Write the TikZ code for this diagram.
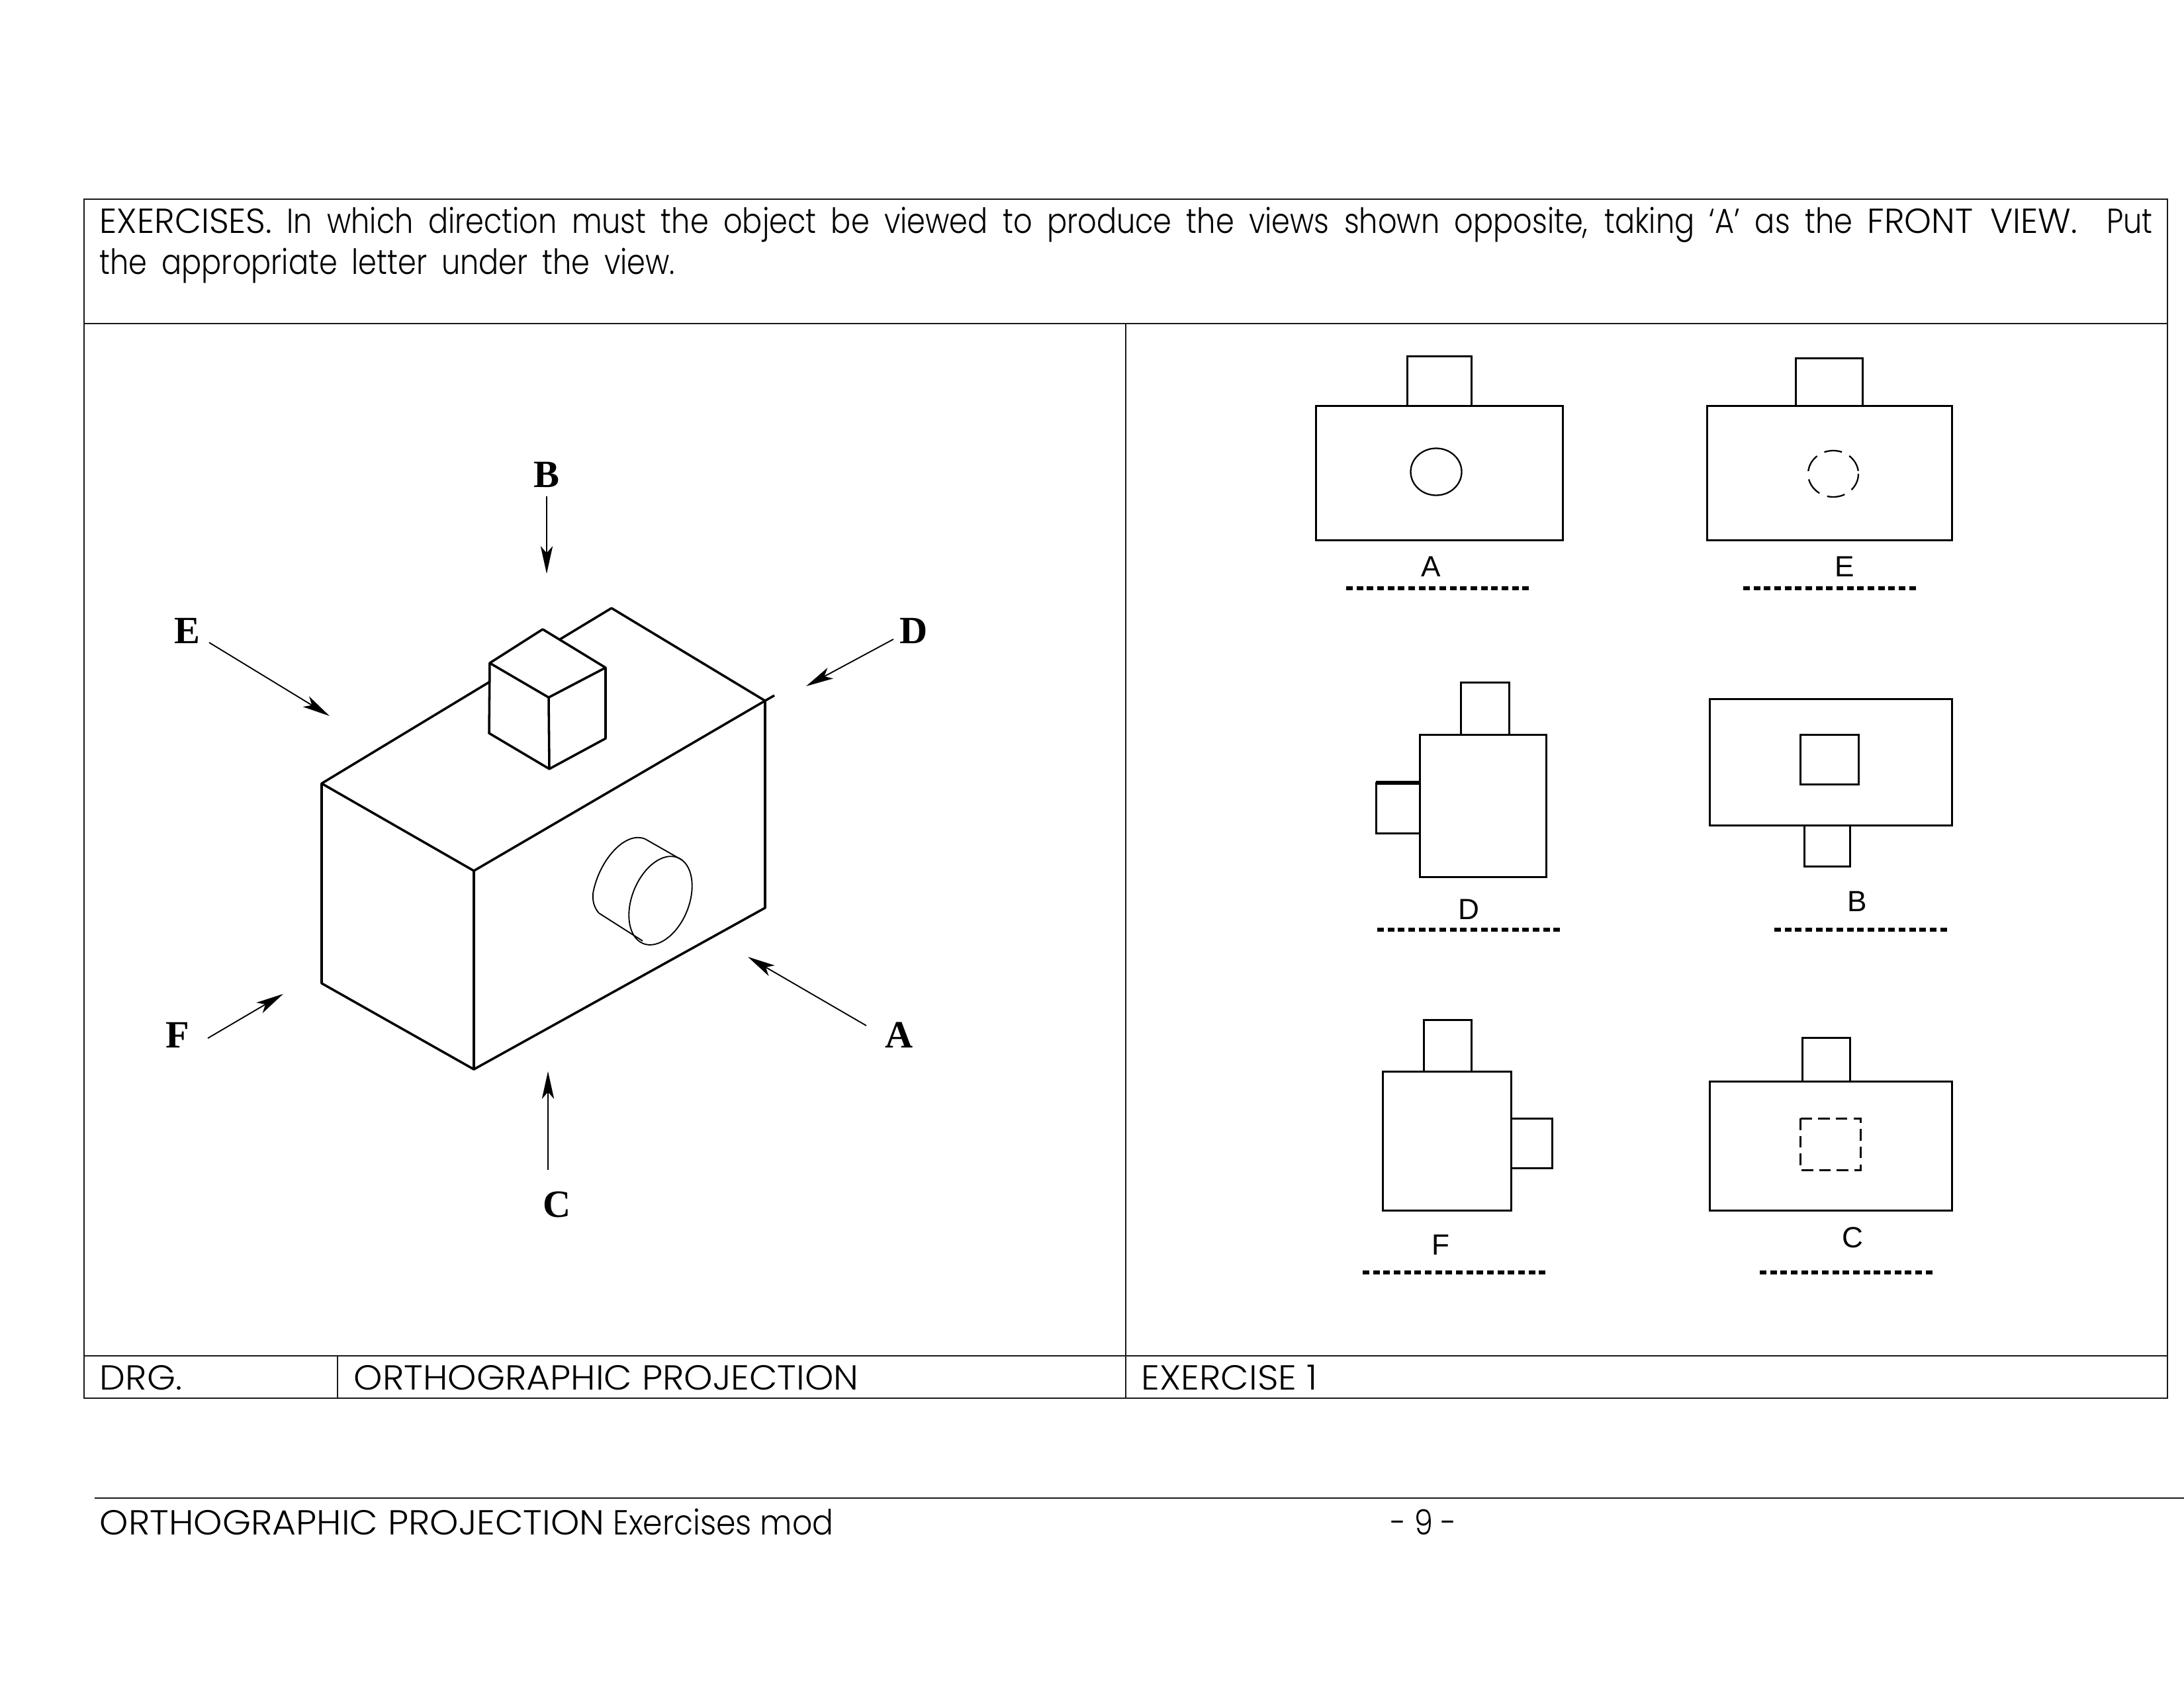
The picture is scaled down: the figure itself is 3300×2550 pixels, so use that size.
\documentclass[tikz,border=0pt]{standalone}
\usepackage{fontspec}
\usetikzlibrary{arrows.meta}
\setmainfont{Poppins Light}[FakeStretch=0.90]
\newfontfamily\capsf{Poppins Light}[FakeStretch=1.05]
\newfontfamily\hdrf{Poppins Light}[FakeStretch=0.85]
\newfontfamily\hdrcaps{Poppins Light}[FakeStretch=0.99]
\newfontfamily\viewfont{Liberation Sans}
\newfontfamily\isofont{Liberation Serif}[BoldFont={Liberation Serif Bold}]
\tikzset{
  px/.style={x=0.24pt,y=-0.24pt},
  framerule/.style={line width=0.6pt,draw=black!90},
  txt/.style={anchor=base west,inner sep=0pt,font=\fontsize{12.6}{15}\selectfont,text=black},
  isoline/.style={line width=0.85pt,line join=round},
  cylline/.style={line width=0.45pt},
  pointer/.style={line width=0.45pt,-{Stealth[length=10pt,width=4.4pt,inset=2.5pt]}},
  isolabel/.style={inner sep=0pt,font=\fontsize{14}{16}\selectfont\isofont\bfseries},
  viewrule/.style={line width=0.72pt,line join=miter},
  viewlabel/.style={anchor=base,inner sep=0pt,font=\fontsize{10.6}{12}\selectfont\viewfont},
  answerline/.style={line width=1.4pt,dash pattern=on 2.4pt off 1.36pt},
}
\begin{document}
\begin{tikzpicture}[px]
\useasboundingbox (0,0) rectangle (3300,2550);
% table frame
\draw[framerule] (127,301) rectangle (3275,2113);
\draw[framerule] (127,489) -- (3275,489);
\draw[framerule] (127,2049) -- (3275,2049);
\draw[framerule] (1701,489) -- (1701,2113);
\draw[framerule] (510,2049) -- (510,2113);
\draw[framerule] (143,2264) -- (3300,2264);
% texts
\node[txt] (head1) at (150,352) {\makebox[744.5pt][s]{\hdrf {\hdrcaps EXERCISES.} In which direction must the object be viewed to produce the views shown opposite, taking ‘A’ as the {\hdrcaps FRONT VIEW.}\ \ Put}};
\node[txt] (head2) at (150,414) {\makebox[208.6pt][s]{\hdrf the appropriate letter under the view.}};
\node[txt] (drg) at (150,2100) {\capsf DRG.};
\node[txt] (title) at (534,2100) {\capsf ORTHOGRAPHIC PROJECTION};
\node[txt] (exer) at (1724,2100) {\capsf EXERCISE 1};
\node[txt] (foot) at (150,2319) {{\capsf ORTHOGRAPHIC PROJECTION} Exercises mod};
\node[txt] (page) at (2101,2319) {\hdrf - 9 -};
% isometric block
\coordinate (L) at (486,1184);
\coordinate (T) at (924,919);
\coordinate (R) at (1156,1059);
\coordinate (Rx) at (1170,1051);
\coordinate (Fr) at (716,1316);
\coordinate (Lb) at (486,1486);
\coordinate (Fb) at (716,1616);
\coordinate (Rb) at (1156,1372);
\draw[isoline] (L) -- (T) -- (R) -- (Rb) -- (Fb) -- (Lb) -- cycle;
\draw[isoline] (L) -- (Fr) -- (Fb);
\draw[isoline] (Fr) -- (R);
\draw[isoline] (R) -- (Rx);
% cube on top
\coordinate (c1) at (820,951);
\coordinate (c2) at (740,1002);
\coordinate (c3) at (915,1009);
\coordinate (c4) at (829,1054);
\coordinate (c5) at (739,1108);
\coordinate (c6) at (830,1162);
\coordinate (c7) at (915,1116);
\filldraw[isoline,fill=white] (c1) -- (c3) -- (c7) -- (c6) -- (c5) -- (c2) -- cycle;
\draw[isoline] (c2) -- (c4) -- (c3);
\draw[isoline] (c4) -- (c6);
% cylinder
\coordinate (cyl) at (998,1361);
\draw[cylline] (cyl) ellipse[x radius=70,y radius=43,rotate=68];
\draw[cylline] (975,1268) .. controls (945,1255) and (905,1300) .. (896,1350) .. controls (895,1362) and (898,1372) .. (905,1380);
\draw[cylline] (975,1268) -- (1031,1300);
\draw[cylline] (905,1380) -- (971,1422);
% pointers
\node[isolabel] (lA) at (1359,1564) {A};
\node[isolabel] (lB) at (826,717) {B};
\node[isolabel] (lC) at (842,1820) {C};
\node[isolabel] (lD) at (1381,953) {D};
\node[isolabel] (lE) at (283,953) {E};
\node[isolabel] (lF) at (268,1564) {F};
\coordinate (sA) at (1309,1550); \coordinate (eA) at (1130,1446);
\coordinate (sB) at (826,750);   \coordinate (eB) at (826,867);
\coordinate (sC) at (828,1768);  \coordinate (eC) at (828,1619);
\coordinate (sD) at (1350,966);  \coordinate (eD) at (1218,1037);
\coordinate (sE) at (316,971);   \coordinate (eE) at (498,1082);
\coordinate (sF) at (314,1569);  \coordinate (eF) at (428,1502);
\foreach \n in {A,B,C,D,E,F} \draw[pointer] (s\n) -- (e\n);
% view A
\draw[viewrule] (1988,613) rectangle (2361,816);
\draw[viewrule] (2126,613) -- (2126,538) -- (2223,538) -- (2223,613);
\draw[line width=0.55pt] (2170,713) ellipse[x radius=38.5,y radius=35.5];
\node[viewlabel] (vA) at (2162,871) {A};
\draw[answerline] (2034,889) -- (2310,889);
% view E
\draw[viewrule] (2579,613) rectangle (2949,816);
\draw[viewrule] (2713,613) -- (2713,541) -- (2814,541) -- (2814,613);
\draw[line width=0.55pt,dash pattern=on 6.5pt off 3pt] (2770,716) ellipse[x radius=38,y radius=35];
\node[viewlabel] (vE) at (2787,871) {E};
\draw[answerline] (2634,889) -- (2895,889);
% view D
\draw[viewrule] (2145,1110) rectangle (2336,1325);
\draw[viewrule] (2207,1110) -- (2207,1031) -- (2280,1031) -- (2280,1110);
\draw[viewrule] (2145,1183) -- (2079,1183) -- (2079,1259) -- (2145,1259);
\draw[line width=1.3pt] (2079,1183) -- (2145,1183);
\node[viewlabel] (vD) at (2219,1389) {D};
\draw[answerline] (2081,1405) -- (2357,1405);
% view B
\draw[viewrule] (2583,1056) rectangle (2949,1247);
\draw[viewrule] (2720,1110) rectangle (2808,1185);
\draw[viewrule] (2726,1247) -- (2726,1309) -- (2795,1309) -- (2795,1247);
\node[viewlabel] (vB) at (2806,1377) {B};
\draw[answerline] (2681,1405) -- (2942,1405);
% view F
\draw[viewrule] (2089,1619) rectangle (2283,1829);
\draw[viewrule] (2151,1619) -- (2151,1541) -- (2223,1541) -- (2223,1619);
\draw[viewrule] (2283,1690) -- (2345,1690) -- (2345,1765) -- (2283,1765);
\node[viewlabel] (vF) at (2177,1896) {F};
\draw[answerline] (2059,1923) -- (2335,1923);
% view C
\draw[viewrule] (2583,1634) rectangle (2949,1829);
\draw[viewrule] (2723,1634) -- (2723,1568) -- (2795,1568) -- (2795,1634);
\draw[line width=0.72pt,dash pattern=on 4.2pt off 2.2pt] (2720,1690) rectangle (2811,1768);
\node[viewlabel] (vC) at (2799,1885) {C};
\draw[answerline] (2659,1923) -- (2920,1923);
\end{tikzpicture}
\end{document}
